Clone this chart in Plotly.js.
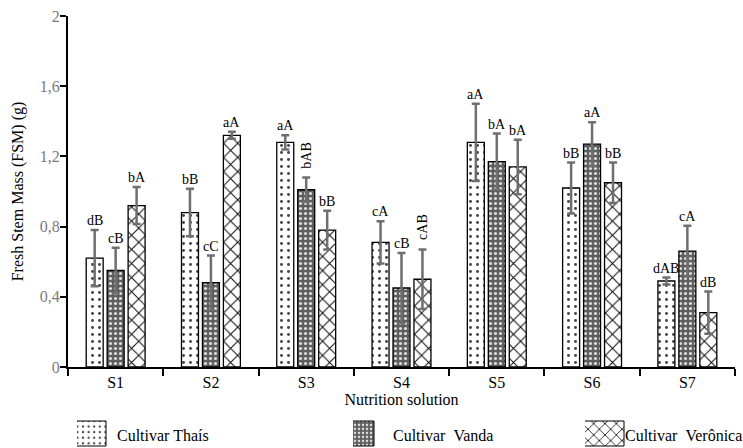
<!DOCTYPE html>
<html>
<head>
<meta charset="utf-8">
<script src="https://cdn.plot.ly/plotly-3.0.1.min.js"></script>
<style>html,body{margin:0;padding:0;background:#fff;}#chart{width:743px;height:448px;}</style>
</head>
<body>
<div id="chart"></div>
<script>
const categories = ['S1','S2','S3','S4','S5','S6','S7'];
const seriesNames = ['Cultivar Thaís','Cultivar\u00a0\u00a0Vanda','Cultivar\u00a0\u00a0Verônica'];
const thais    = [0.62, 0.88, 1.28, 0.71, 1.28, 1.02, 0.49];
const vanda    = [0.55, 0.48, 1.01, 0.45, 1.17, 1.27, 0.66];
const veronica = [0.92, 1.32, 0.78, 0.50, 1.14, 1.05, 0.31];
const thaisErr    = [0.16, 0.135, 0.04, 0.12, 0.22, 0.145, 0.02];
const vandaErr    = [0.13, 0.155, 0.07, 0.20, 0.16, 0.125, 0.145];
const veronicaErr = [0.105, 0.02, 0.11, 0.17, 0.155, 0.115, 0.12];
const thaisLetters    = ['dB','bB','aA','cA','aA','bB','dAB'];
const vandaLetters    = ['cB','cC','bAB','cB','bA','aA','cA'];
const veronicaLetters = ['bA','aA','bB','cAB','bA','bB','dB'];
const yTicks = [0, 0.4, 0.8, 1.2, 1.6, 2];

const FONT = 'Liberation Serif, Times New Roman, serif';
const values = [thais, vanda, veronica];
const errs = [thaisErr, vandaErr, veronicaErr];
const letters = [thaisLetters, vandaLetters, veronicaLetters];
const patterns = [
  {shape: '.', fgcolor: '#444444', bgcolor: '#ffffff', size: 7, solidity: 0.14},
  {shape: '.', fgcolor: '#dddddd', bgcolor: '#5e5e5e', size: 5, solidity: 0.3},
  {shape: 'x', fgcolor: '#111111', bgcolor: '#ffffff', size: 10, solidity: 0.2}
];
const legendIds = ['legend', 'legend2', 'legend3'];

const traces = values.map((v, i) => ({
  type: 'bar',
  name: seriesNames[i],
  legend: legendIds[i],
  x: categories,
  y: v,
  marker: {color: '#ffffff', line: {color: '#000', width: 1.3}, pattern: patterns[i]},
  error_y: {type: 'data', array: errs[i], visible: true, color: '#6f6f6f', thickness: 2.5, width: 4}
}));

const slotPx = 21;
const annotations = [];
letters.forEach((arr, i) => {
  arr.forEach((t, j) => {
    const rotated = (t === 'bAB' && i === 1) || (t === 'cAB' && i === 2);
    annotations.push({
      x: categories[j], y: values[i][j] + errs[i][j], xref: 'x', yref: 'y',
      text: t, showarrow: false, xanchor: 'center', yanchor: 'bottom',
      xshift: (i - 1) * slotPx, yshift: rotated ? 7 : 0,
      textangle: rotated ? -90 : 0,
      font: {family: FONT, size: 14, color: '#000'}
    });
  });
});

function legendBox(xPx) {
  return {orientation: 'h', xref: 'container', yref: 'container',
    x: xPx / 743, y: 1 - 435 / 448, xanchor: 'left', yanchor: 'middle',
    bgcolor: 'rgba(0,0,0,0)', borderwidth: 0,
    font: {family: FONT, size: 16, color: '#000'}};
}

const textTargets = [117, 393, 625];
const layout = {
  width: 743, height: 448,
  margin: {l: 68, r: 8, t: 16, b: 81},
  paper_bgcolor: '#fff', plot_bgcolor: '#fff',
  font: {family: FONT, size: 14, color: '#000'},
  separators: ',.',
  barmode: 'group', bargap: 0.34, bargroupgap: 0.19,
  showlegend: true,
  legend: legendBox(textTargets[0] - 40),
  legend2: legendBox(textTargets[1] - 40),
  legend3: legendBox(textTargets[2] - 40),
  xaxis: {
    type: 'category', tickson: 'boundaries', ticks: 'outside', ticklen: 7, tickwidth: 2, tickcolor: '#000',
    showline: true, linecolor: '#000', linewidth: 2, showgrid: false, zeroline: false,
    tickfont: {family: FONT, size: 16, color: '#000'},
    title: {text: 'Nutrition solution', font: {family: FONT, size: 16, color: '#000'}, standoff: 2}
  },
  yaxis: {
    range: [0, 2], tickvals: yTicks, ticks: 'outside', ticklen: 6, tickwidth: 2, tickcolor: '#000',
    ticklabelstandoff: -3,
    showline: true, linecolor: '#000', linewidth: 2, showgrid: false, zeroline: false,
    tickfont: {family: FONT, size: 16, color: '#7a7a7a'},
    title: {text: 'Fresh Stem Mass (FSM) (g)', font: {family: FONT, size: 16, color: '#000'}, standoff: 12}
  },
  annotations: annotations
};

// legend swatch boxes in page pixels: [left, right, top, bottom]
const swatchBoxes = [[55, 106, 421, 446], [325, 374, 421, 446], [567, 624, 421, 446]];
const gd = document.getElementById('chart');

function drawSwatches() {
  legendIds.forEach((id, i) => {
    const leg = gd.querySelector('g.' + id);
    if (!leg) return;
    leg.querySelectorAll('.legendpoints path').forEach(p => {
      const m = p.getScreenCTM();
      if (!m) return;
      const [L, R, T, B] = swatchBoxes[i];
      const lx = (L - m.e) / m.a, rx = (R - m.e) / m.a;
      const ty = (T - m.f) / m.d, by = (B - m.f) / m.d;
      p.setAttribute('d', 'M' + lx + ',' + ty + 'H' + rx + 'V' + by + 'H' + lx + 'Z');
      p.style.strokeWidth = '1px';
      p.style.stroke = '#000';
    });
  });
}

Plotly.newPlot(gd, traces, layout, {staticPlot: true}).then(drawSwatches);
</script>
</body>
</html>
